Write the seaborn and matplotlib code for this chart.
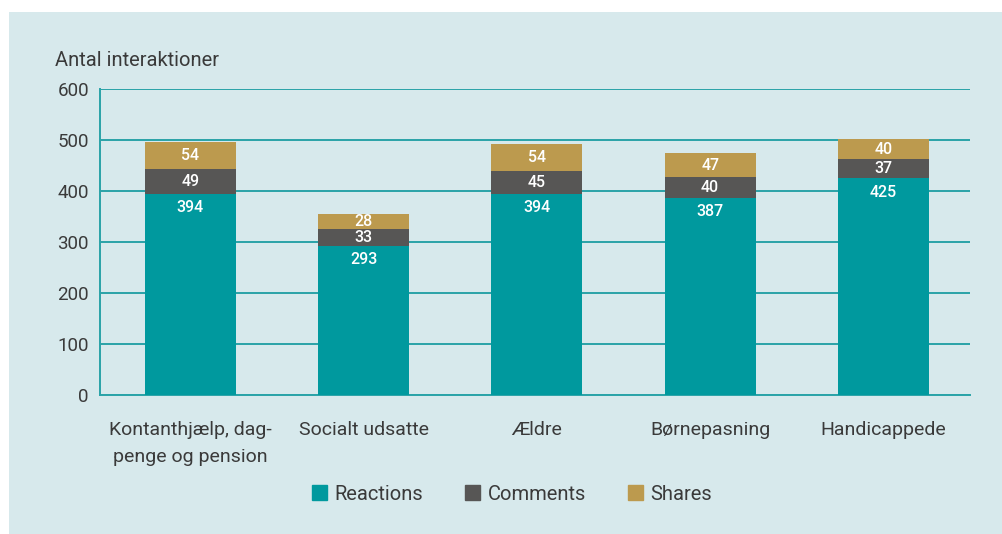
import pandas as pd
import matplotlib.pyplot as plt
import seaborn as sns
from matplotlib.patches import Patch, Rectangle

# data
kategorier = ["Kontanthjælp, dag-\npenge og pension", "Socialt udsatte", "Ældre",
              "Børnepasning", "Handicappede"]
reactions = [394, 293, 394, 387, 425]
comments = [49, 33, 45, 40, 37]
shares = [54, 28, 54, 47, 40]

# couleurs
bg = "#d7e9ec"
c_reac = "#00999e"
c_comm = "#575655"
c_share = "#bc9a4e"
grille = "#2aa3a8"
txt = "#3a3a3a"

sns.set_style("white")
plt.rcParams['font.family'] = ['Roboto', 'DejaVu Sans']

df = pd.DataFrame({"kat": kategorier, "reactions": reactions,
                   "comments": comments, "shares": shares})
df["rc"] = df["reactions"] + df["comments"]
df["total"] = df["rc"] + df["shares"]

fig = plt.figure(figsize=(10.02, 5.34), dpi=100)
fig.patch.set_facecolor("white")
# panneau bleu clair
fig.patches.append(Rectangle((9 / 1002, 0), 1 - 9 / 1002, 1 - 12 / 534,
                             transform=fig.transFigure, facecolor=bg,
                             edgecolor="none", zorder=-10))

ax = fig.add_axes([100 / 1002, 1 - 395 / 534, 870 / 1002, 306 / 534])
ax.set_facecolor(bg)
ax.patch.set_alpha(0)

w = 0.525
# empilement : du total vers le bas
for col, couleur in [("total", c_share), ("rc", c_comm), ("reactions", c_reac)]:
    sns.barplot(data=df, x="kat", y=col, color=couleur, width=w, ax=ax,
                saturation=1, linewidth=0, edgecolor="none", zorder=3)

# étiquettes
for i in range(len(df)):
    r, c, s = reactions[i], comments[i], shares[i]
    ax.annotate(str(r), (i, r), xytext=(0, -10), textcoords="offset points",
                ha="center", va="center", color="white", fontsize=11.5,
                fontweight="medium", zorder=5)
    ax.text(i, r + c / 2, str(c), ha="center", va="center", color="white",
            fontsize=11.5, fontweight="medium", zorder=5)
    ax.text(i, r + c + s / 2, str(s), ha="center", va="center", color="white",
            fontsize=11.5, fontweight="medium", zorder=5)

ax.set_ylim(0, 600)
ax.set_xlim(-0.522, 4.5)
ax.set_yticks(range(0, 601, 100))
ax.yaxis.grid(True, color=grille, linewidth=1.4, zorder=0)
ax.set_axisbelow(True)
for s in ["top", "right"]:
    ax.spines[s].set_visible(False)
for s in ["left", "bottom"]:
    ax.spines[s].set_color(grille)
    ax.spines[s].set_linewidth(1.4)
ax.tick_params(axis="y", length=0, pad=8, labelsize=13.5, labelcolor=txt)
ax.tick_params(axis="x", length=0, pad=19, labelsize=14, labelcolor=txt)
ax.set_xlabel("")
ax.set_ylabel("")
for lab in ax.get_xticklabels():
    lab.set_linespacing(1.6)

fig.text(55 / 1002, 1 - 60 / 534, "Antal interaktioner", ha="left", va="center",
         fontsize=14.5, color=txt)

handles = [Patch(color=c_reac, label="Reactions"),
           Patch(color=c_comm, label="Comments"),
           Patch(color=c_share, label="Shares")]
leg = fig.legend(handles=handles, loc="center", bbox_to_anchor=(512 / 1002, 1 - 494 / 534),
                 ncol=3, frameon=False, fontsize=14.5, handlelength=0.75,
                 handleheight=0.75, handletextpad=0.35, columnspacing=2.1)
for t in leg.get_texts():
    t.set_color(txt)

plt.savefig("out.png", dpi=100, facecolor=fig.get_facecolor())
plt.close()
